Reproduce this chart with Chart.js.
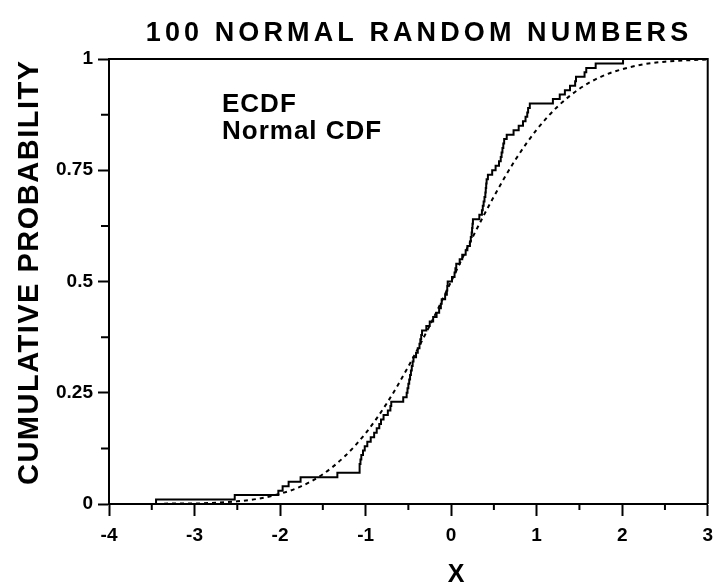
<!DOCTYPE html>
<html>
<head>
<meta charset="utf-8">
<script src="https://cdn.jsdelivr.net/npm/chart.js@4.4.1/dist/chart.umd.min.js"></script>
<style>
  html, body { margin: 0; padding: 0; background: #fff; }
  #wrap { width: 721px; height: 584px; }
</style>
</head>
<body>
<div id="wrap"><canvas id="myChart" width="721" height="584"></canvas></div>
<script>
// sorted sample
const sample = [
  -3.45, -2.53, -2.02, -1.97, -1.90, -1.76, -1.33, -1.07, -1.07, -1.06,
  -1.05, -1.03, -1.01, -0.98, -0.94, -0.90, -0.87, -0.84, -0.82, -0.79,
  -0.74, -0.71, -0.70, -0.56, -0.52, -0.51, -0.50, -0.49, -0.48, -0.47,
  -0.46, -0.45, -0.44, -0.41, -0.39, -0.37, -0.36, -0.35, -0.34, -0.29,
  -0.25, -0.21, -0.17, -0.14, -0.12, -0.11, -0.07, -0.05, -0.045, -0.04,
  0.01, 0.04, 0.05, 0.06, 0.10, 0.13, 0.17, 0.19, 0.22, 0.23,
  0.24, 0.245, 0.25, 0.255, 0.33, 0.36, 0.37, 0.38, 0.39, 0.40,
  0.405, 0.41, 0.415, 0.43, 0.48, 0.52, 0.56, 0.58, 0.59, 0.60,
  0.61, 0.62, 0.65, 0.73, 0.79, 0.84, 0.87, 0.89, 0.90, 0.92,
  1.19, 1.27, 1.33, 1.39, 1.45, 1.46, 1.56, 1.58, 1.69, 2.01
];

// fitted normal CDF
const normX = [-3.45, -3.25, -3.0, -2.75, -2.5, -2.25, -2.0, -1.75, -1.5, -1.25, -1.0, -0.75, -0.5, -0.25,
  0, 0.25, 0.5, 0.75, 1.0, 1.25, 1.5, 1.75, 2.0, 2.25, 2.5, 2.75, 3.0];
const normP = [0.000, 0.001, 0.001, 0.003, 0.006, 0.012, 0.023, 0.040, 0.067, 0.106, 0.159, 0.227, 0.309, 0.401,
  0.500, 0.599, 0.691, 0.773, 0.841, 0.894, 0.933, 0.960, 0.977, 0.988, 0.994, 0.997, 0.999];

const xMinor = [-3.5, -2.5, -1.5, -0.5, 0.5, 1.5, 2.5];
const yMinor = [0.125, 0.375, 0.625, 0.875];

const chartTitle = '100 NORMAL RANDOM NUMBERS';
const xTitle = 'X';
const yTitle = 'CUMULATIVE PROBABILITY';
const legendText = ['ECDF', 'Normal CDF'];

const ecdf = [{ x: sample[0], y: 0 }].concat(
  sample.map((v, i) => ({ x: v, y: (i + 1) / sample.length }))
);
const normal = normX.map((v, i) => ({ x: v, y: normP[i] }));

const FONT = '"Liberation Sans", Arial, sans-serif';

function spacedText(ctx, text, x, y, font, spacing, align) {
  ctx.font = font;
  ctx.letterSpacing = spacing + 'px';
  const w = ctx.measureText(text).width - spacing;
  let sx = x;
  if (align === 'center') sx = x - w / 2;
  ctx.textAlign = 'left';
  ctx.fillText(text, sx, y);
  ctx.letterSpacing = '0px';
}

const extras = {
  id: 'extras',
  afterDraw(chart) {
    const { ctx, chartArea: a, scales: { x, y } } = chart;
    ctx.save();
    ctx.strokeStyle = '#000';
    ctx.lineWidth = 2;
    ctx.beginPath();
    ctx.moveTo(a.left, a.top);
    ctx.lineTo(a.right, a.top);
    ctx.lineTo(a.right, a.bottom);
    ctx.stroke();

    // minor ticks
    ctx.beginPath();
    xMinor.forEach(v => {
      const px = x.getPixelForValue(v);
      ctx.moveTo(px, a.bottom);
      ctx.lineTo(px, a.bottom + 6);
    });
    yMinor.forEach(v => {
      const py = y.getPixelForValue(v);
      ctx.moveTo(a.left - 8, py);
      ctx.lineTo(a.left, py);
    });
    ctx.stroke();

    ctx.fillStyle = '#000';
    ctx.textBaseline = 'alphabetic';
    spacedText(ctx, chartTitle, 417, 41, 'bold 27px ' + FONT, 4.1, 'center');
    spacedText(ctx, legendText[0], 222, 112, 'bold 26px ' + FONT, 1, 'left');
    spacedText(ctx, legendText[1], 222, 139, 'bold 26px ' + FONT, 1, 'left');
    spacedText(ctx, xTitle, 456, 582, 'bold 25px ' + FONT, 0, 'center');

    ctx.translate(38, 273);
    ctx.rotate(-Math.PI / 2);
    spacedText(ctx, yTitle, 0, 0, 'bold 29px ' + FONT, 1.5, 'center');
    ctx.restore();
  }
};

const ctx = document.getElementById('myChart').getContext('2d');
const tickFont = { family: FONT, weight: 'bold', size: 19 };

const myChart = new Chart(ctx, {
  type: 'line',
  data: {
    datasets: [
      {
        label: legendText[0],
        data: ecdf,
        stepped: 'before',
        borderColor: '#000',
        borderWidth: 2,
        pointRadius: 0,
        fill: false
      },
      {
        label: legendText[1],
        data: normal,
        borderColor: '#000',
        borderWidth: 2,
        borderDash: [4, 4],
        pointRadius: 0,
        cubicInterpolationMode: 'monotone',
        fill: false
      }
    ]
  },
  options: {
    responsive: false,
    animation: false,
    layout: { padding: { left: 0, top: 59, right: 7, bottom: 0 } },
    scales: {
      x: {
        type: 'linear',
        min: -4,
        max: 3,
        ticks: { stepSize: 1, color: '#000', font: tickFont, padding: 8, maxRotation: 0 },
        grid: { drawOnChartArea: false, tickLength: 12, tickWidth: 2, tickColor: '#000' },
        border: { color: '#000', width: 2 },
        afterFit(s) { s.height = 80; }
      },
      y: {
        min: 0,
        max: 1,
        ticks: { stepSize: 0.25, color: '#000', font: tickFont, padding: 5, callback: v => String(v) },
        grid: { drawOnChartArea: false, tickLength: 11, tickWidth: 2, tickColor: '#000' },
        border: { color: '#000', width: 2 },
        afterFit(s) { s.width = 109; }
      }
    },
    plugins: {
      legend: { display: false },
      tooltip: { enabled: false },
      title: { display: false }
    }
  },
  plugins: [extras]
});
</script>
</body>
</html>
